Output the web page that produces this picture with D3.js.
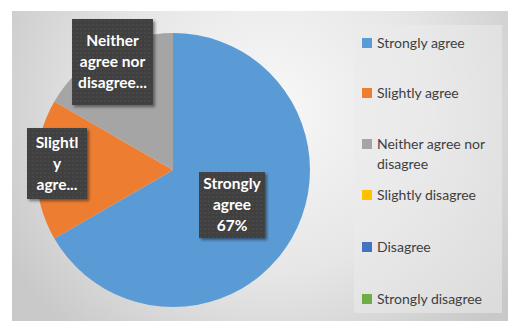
<!DOCTYPE html>
<html><head><meta charset="utf-8">
<script src="https://cdn.jsdelivr.net/npm/d3@7"></script>
<style>body{margin:0;background:#fff}svg{display:block}</style>
</head><body>
<svg id="c" width="520" height="329"></svg>
<script>
const categories = ["Strongly agree","Slightly agree","Neither agree nor disagree","Slightly disagree","Disagree","Strongly disagree"];
const values = [4,1,1,0,0,0];
const colors = ["#5B9BD5","#ED7D31","#A5A5A5","#FFC000","#4472C4","#70AD47"];
const dataLabels = [["Strongly","agree","67%"],["Slightl","y","agre..."],["Neither","agree nor","disagree..."]];
const legendLines = [["Strongly agree"],["Slightly agree"],["Neither agree nor","disagree"],["Slightly disagree"],["Disagree"],["Strongly disagree"]];

const svg = d3.select("#c");
const defs = svg.append("defs");
const rg = defs.append("radialGradient").attr("id","bg").attr("gradientUnits","userSpaceOnUse")
  .attr("cx",270).attr("cy",110).attr("r",300);
rg.append("stop").attr("offset","0").attr("stop-color","#f8f8f8");
rg.append("stop").attr("offset","0.55").attr("stop-color","#e6e6e6");
rg.append("stop").attr("offset","1").attr("stop-color","#c9c9c9");
const pat = defs.append("pattern").attr("id","dots").attr("width",4).attr("height",4).attr("patternUnits","userSpaceOnUse");
pat.append("rect").attr("width",4).attr("height",4).attr("fill","#3f3f3f");
pat.append("circle").attr("cx",1).attr("cy",1).attr("r",0.7).attr("fill","#545454");
const f = defs.append("filter").attr("id","sh").attr("x","-20%").attr("y","-20%").attr("width","150%").attr("height","150%");
f.append("feDropShadow").attr("dx",2).attr("dy",2).attr("stdDeviation",1.5).attr("flood-color","#000").attr("flood-opacity",0.45);

svg.append("rect").attr("x",12).attr("y",11).attr("width",496).attr("height",310).attr("fill","url(#bg)");

// legend box
svg.append("rect").attr("x",354).attr("y",25).attr("width",148).attr("height",288).attr("fill","#ebebeb").attr("fill-opacity",0.55);

const cx = 173, cy = 170, r = 137;
const pie = d3.pie().sort(null).value(d=>d)(values);
const arc = d3.arc().innerRadius(0).outerRadius(r);
const g = svg.append("g").attr("transform",`translate(${cx},${cy})`);
g.selectAll("path").data(pie).join("path").attr("d",arc).attr("fill",(d,i)=>colors[i]);

// data labels
const boxes = [{x:199,y:172,w:66,h:66},{x:27,y:128,w:60,h:71},{x:72,y:19,w:81,h:86}];
const lg = svg.append("g").attr("font-family","Lato, 'Open Sans', sans-serif").attr("font-weight","bold").attr("font-size",15.5);
boxes.forEach((b,i)=>{
  lg.append("rect").attr("x",b.x).attr("y",b.y).attr("width",b.w).attr("height",b.h).attr("fill","url(#dots)").attr("filter","url(#sh)");
  const lines = dataLabels[i];
  const lh = 21;
  const y0 = b.y + b.h/2 - (lines.length-1)*lh/2;
  lines.forEach((t,j)=>{
    lg.append("text").attr("x",b.x+b.w/2).attr("y",y0+j*lh).attr("dy","0.35em").attr("text-anchor","middle").attr("fill","#fff").text(t);
  });
});

// legend
const ly = [43,93,144,195,247,299];
const leg = svg.append("g").attr("font-family","Lato, 'Open Sans', sans-serif").attr("font-size",14).attr("fill","#404040");
categories.forEach((c,i)=>{
  leg.append("rect").attr("x",362).attr("y",ly[i]-5).attr("width",10).attr("height",10).attr("fill",colors[i]);
  legendLines[i].forEach((t,j)=>{
    leg.append("text").attr("x",377).attr("y",ly[i]+j*20).attr("dy","0.35em").text(t);
  });
});
</script>
</body></html>
